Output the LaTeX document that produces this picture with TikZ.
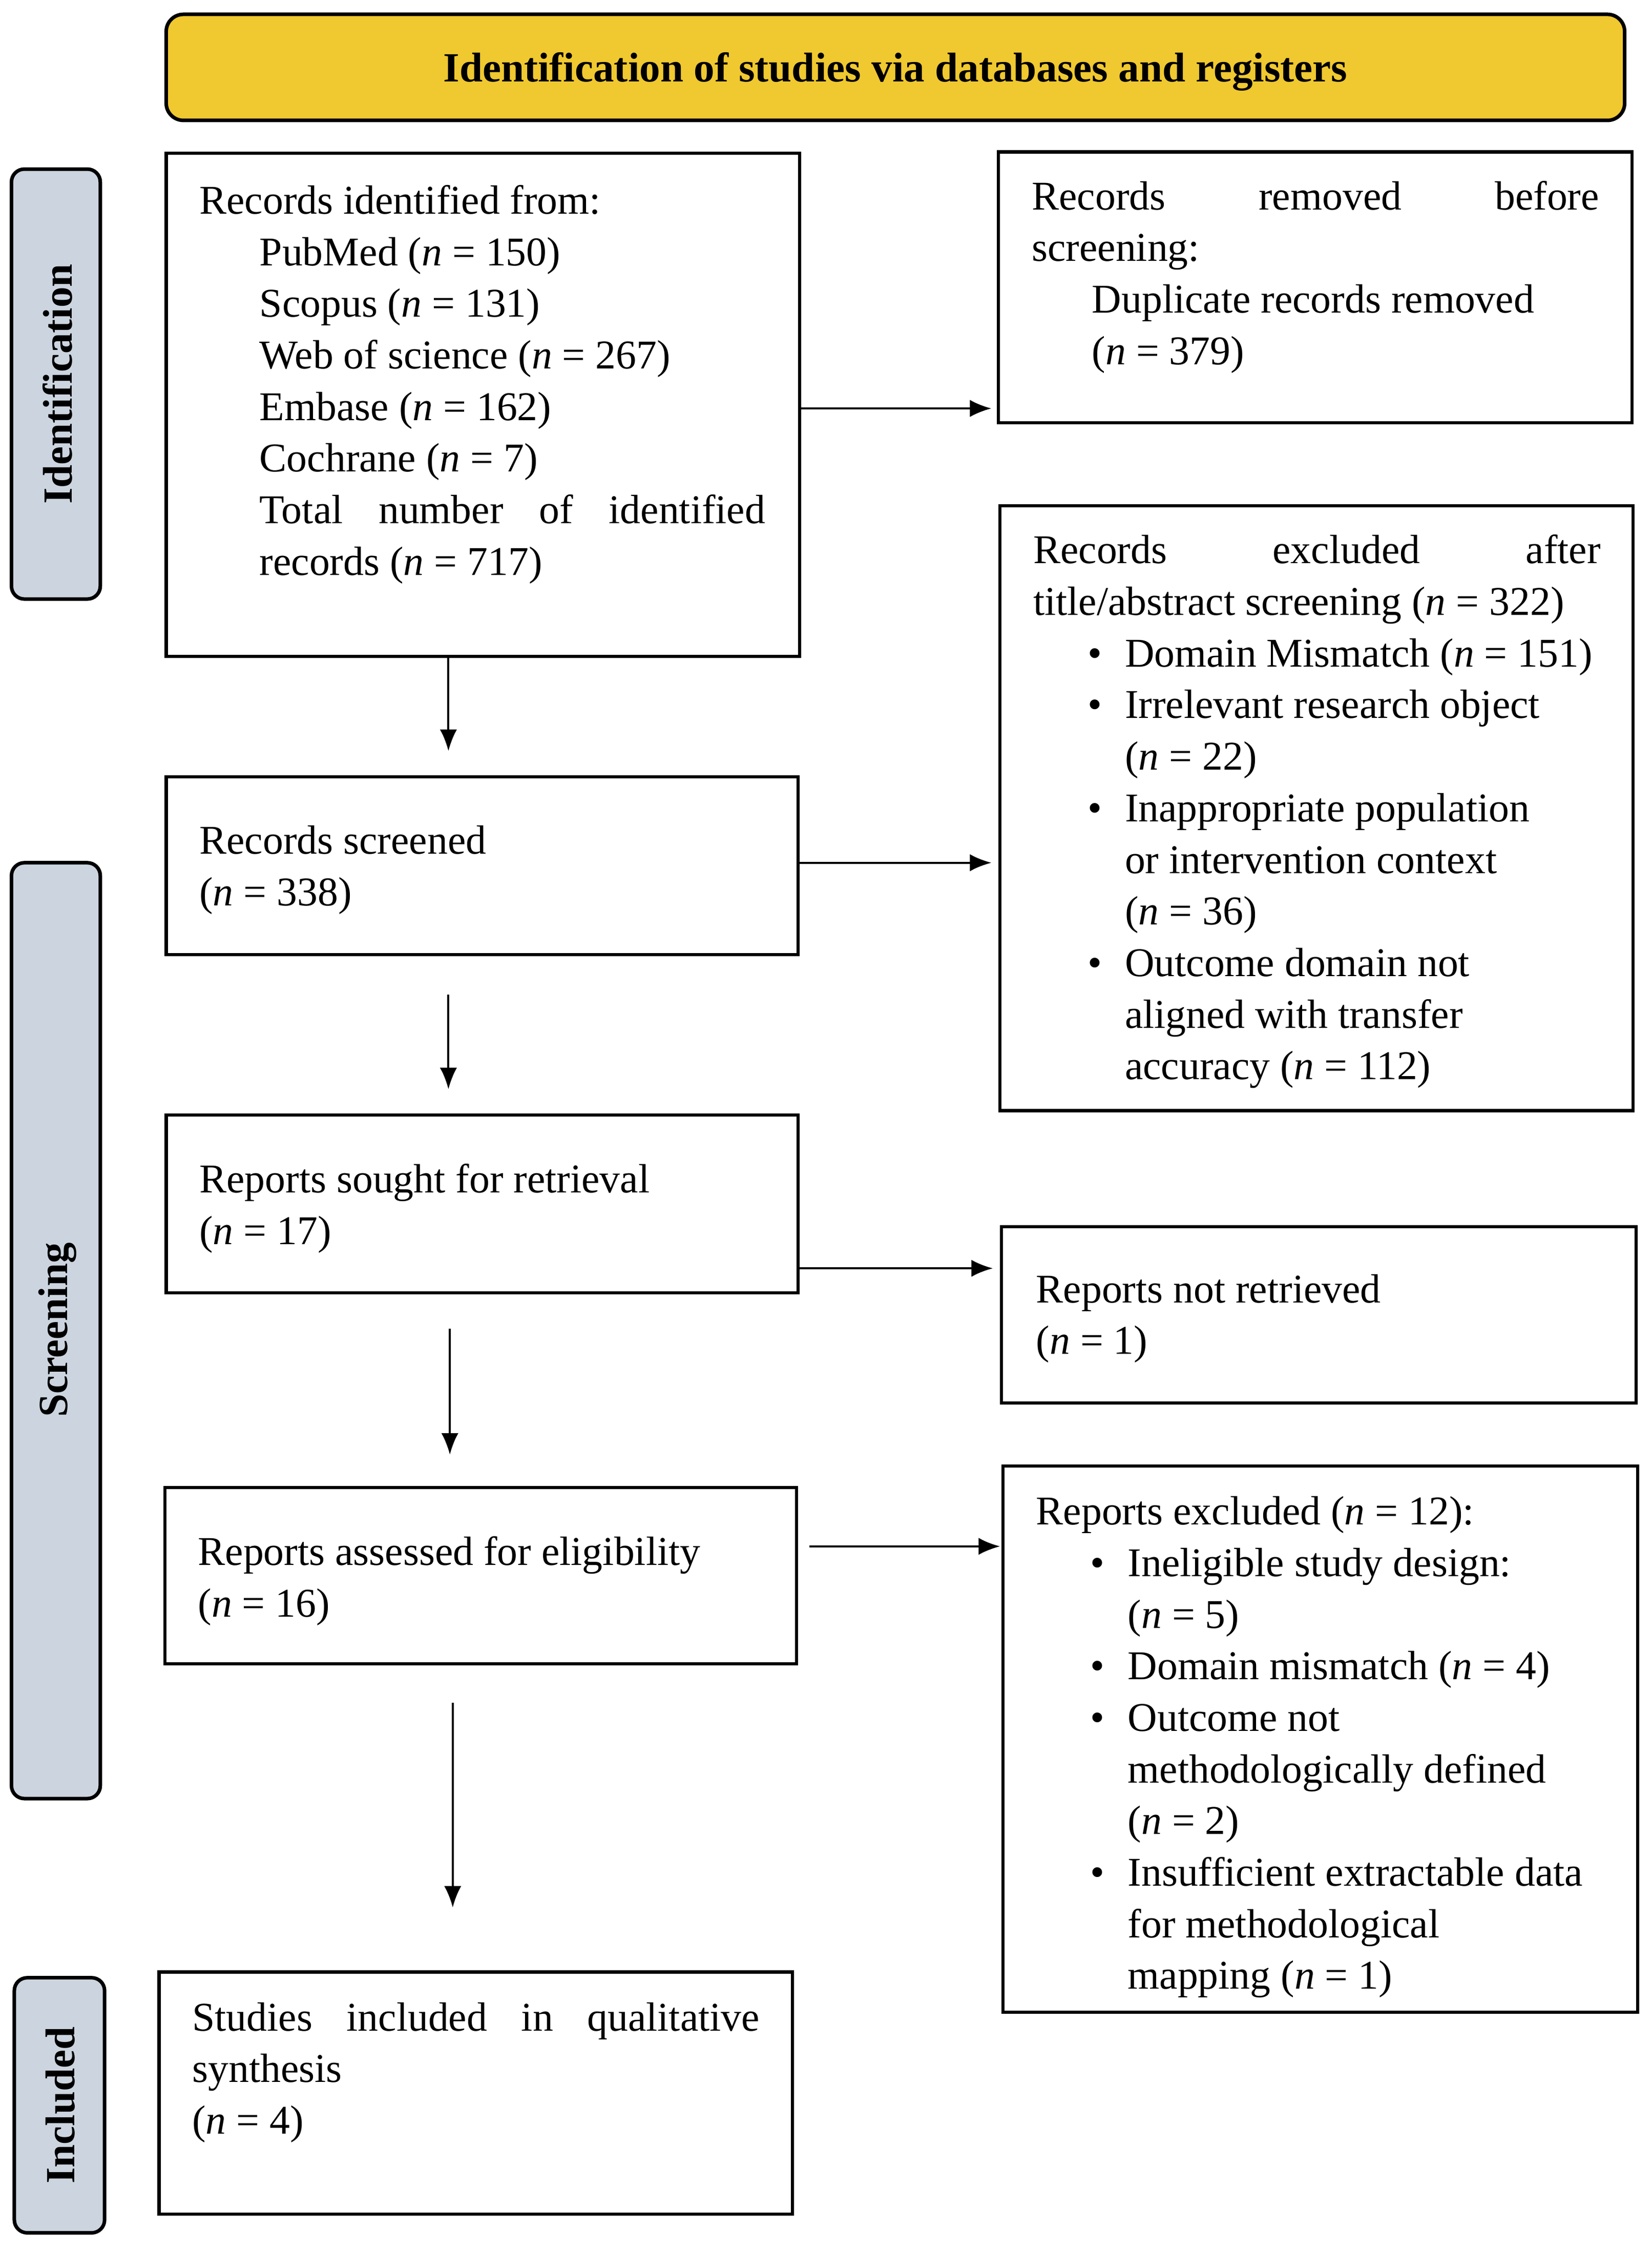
\documentclass[tikz,border=0pt]{standalone}
\usepackage{fontspec}
\setmainfont{Liberation Serif}
\usetikzlibrary{arrows.meta}
\begin{document}
\newcommand{\fs}{\fontsize{28.5}{36}\selectfont}
\newcommand{\nn}{\textit{n}}
\newcommand{\jl}[2]{\makebox[#1][s]{#2}}
\newcommand{\bl}{\makebox[26pt][l]{•}}
\begin{tikzpicture}[x=1pt,y=-1pt,
  box/.style={draw,line width=2.2pt},
  side/.style={draw,line width=2.5pt,rounded corners=9pt,fill=sideblue},
  txt/.style={anchor=north west,inner sep=0pt,align=left,font=\fs,yshift=21pt},
  arr/.style={-{Latex[length=15pt,width=12pt]},line width=1.4pt},
  sidetxt/.style={rotate=90,font=\fontsize{29}{32}\selectfont\bfseries}]
\definecolor{sideblue}{HTML}{CCD5DF}
\definecolor{gold}{HTML}{F0C830}
\useasboundingbox (0,0) rectangle (1153,1570);
% title
\draw[line width=2.5pt,rounded corners=12pt,fill=gold] (116,10) rectangle (1134,84);
\node[font=\fontsize{29}{32}\selectfont\bfseries] (title) at (625,50) {Identification of studies via databases and registers};
% side labels
\draw[side] (8,118) rectangle (70,418);
\node[sidetxt] (sid) at (40,268) {Identification};
\draw[side] (8,602) rectangle (70,1255);
\node[sidetxt] (ssc) at (40,928) {Screening};
\draw[side] (10,1380) rectangle (73,1558);
\node[sidetxt] (sin) at (42,1469) {Included};
% boxes
\draw[box] (116,107) rectangle (558,458);
\node[txt] (t1) at (139,150) {Records identified from:\\
\hspace{42pt}PubMed (\nn{} = 150)\\
\hspace{42pt}Scopus (\nn{} = 131)\\
\hspace{42pt}Web of science (\nn{} = 267)\\
\hspace{42pt}Embase (\nn{} = 162)\\
\hspace{42pt}Cochrane (\nn{} = 7)\\
\hspace{42pt}\jl{353pt}{Total \hfill number \hfill of \hfill identified}\\
\hspace{42pt}records (\nn{} = 717)};
\draw[box] (697,106) rectangle (1139,295);
\node[txt] (t2) at (720,147) {\jl{396pt}{Records \hfill removed \hfill before}\\
screening:\\
\hspace{42pt}Duplicate records removed\\
\hspace{42pt}(\nn{} = 379)};
\draw[box] (116,542) rectangle (557,666);
\node[txt] (t3) at (139,597) {Records screened\\(\nn{} = 338)};
\draw[box] (698,353) rectangle (1140,775);
\node[txt] (t4) at (721,394) {\jl{396pt}{Records \hfill excluded \hfill after}\\
title/abstract screening (\nn{} = 322)\\
\hspace{38pt}\bl Domain Mismatch (\nn{} = 151)\\
\hspace{38pt}\bl Irrelevant research object\\
\hspace{64pt}(\nn{} = 22)\\
\hspace{38pt}\bl Inappropriate population\\
\hspace{64pt}or intervention context\\
\hspace{64pt}(\nn{} = 36)\\
\hspace{38pt}\bl Outcome domain not\\
\hspace{64pt}aligned with transfer\\
\hspace{64pt}accuracy (\nn{} = 112)};
\draw[box] (116,778) rectangle (557,902);
\node[txt] (t5) at (139,833) {Reports sought for retrieval\\(\nn{} = 17)};
\draw[box] (699,856) rectangle (1142,979);
\node[txt] (t6) at (723,910) {Reports not retrieved\\(\nn{} = 1)};
\draw[box] (115,1038) rectangle (556,1161);
\node[txt] (t7) at (138,1093) {Reports assessed for eligibility\\(\nn{} = 16)};
\draw[box] (700,1023) rectangle (1143,1404);
\node[txt] (t8) at (723,1065) {Reports excluded (\nn{} = 12):\\
\hspace{38pt}\bl Ineligible study design:\\
\hspace{64pt}(\nn{} = 5)\\
\hspace{38pt}\bl Domain mismatch (\nn{} = 4)\\
\hspace{38pt}\bl Outcome not\\
\hspace{64pt}methodologically defined\\
\hspace{64pt}(\nn{} = 2)\\
\hspace{38pt}\bl Insufficient extractable data\\
\hspace{64pt}for methodological\\
\hspace{64pt}mapping (\nn{} = 1)};
\draw[box] (111,1376) rectangle (553,1545);
\node[txt] (t9) at (134,1418) {\jl{396pt}{Studies \hfill included \hfill in \hfill qualitative}\\
synthesis\\(\nn{} = 4)};
% arrows
\coordinate (a1s) at (558,285); \coordinate (a1e) at (692,285);
\coordinate (a2s) at (313,458); \coordinate (a2e) at (313,524);
\coordinate (a3s) at (558,602); \coordinate (a3e) at (692,602);
\coordinate (a4s) at (313,694); \coordinate (a4e) at (313,760);
\coordinate (a5s) at (558,885); \coordinate (a5e) at (693,885);
\coordinate (a6s) at (314,927); \coordinate (a6e) at (314,1015);
\coordinate (a7s) at (565,1079); \coordinate (a7e) at (698,1079);
\coordinate (a8s) at (316,1188); \coordinate (a8e) at (316,1331);
\foreach \i in {1,...,8} \draw[arr] (a\i s) -- (a\i e);
\end{tikzpicture}
\end{document}
